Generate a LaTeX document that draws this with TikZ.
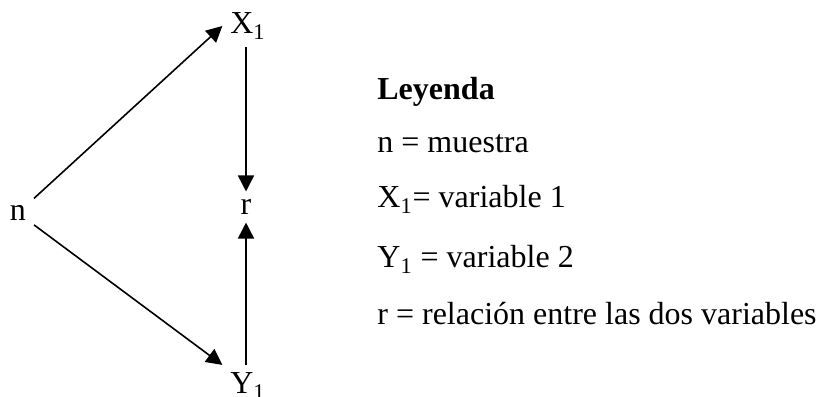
\documentclass[tikz,border=0pt]{standalone}
\usepackage{fontspec}
\setmainfont{Liberation Serif}
\usetikzlibrary{arrows.meta}

\tikzset{
  var/.style={font=\fontsize{16}{18}\selectfont, inner sep=1pt, outer sep=3pt},
  leg/.style={font=\fontsize{16}{18}\selectfont, anchor=base west, inner sep=0pt},
  flecha/.style={-{Triangle[length=8pt,width=8pt]}, line width=0.8pt}
}

\begin{document}
\begin{tikzpicture}[x=0.5pt,y=0.5pt]
\useasboundingbox (0,0) rectangle (818,396);

% Variables
\node[var] (n) at (18,183) {n};
\node[var] (x1) at (248,370) {X\textsubscript{1}};
\node[var] (r) at (246,189) {r};
\node[var] (y1) at (248,10) {Y\textsubscript{1}};

% Arrows
\draw[flecha] (n) -- (x1.west);
\draw[flecha] (n) -- (y1.north west);
\draw[flecha] (x1.south -| r) -- (r);
\draw[flecha] (y1.north -| r) -- (r);

% Legend
\node[leg, font=\fontsize{16}{18}\selectfont\bfseries] (ley) at (377,296) {Leyenda};
\node[leg] (l1) at (377,243) {n = muestra};
\node[leg] (l2) at (377,188) {X\textsubscript{1}= variable 1};
\node[leg] (l3) at (377,128) {Y\textsubscript{1} = variable 2};
\node[leg] (l4) at (377,71) {r = relación entre las dos variables};

\end{tikzpicture}
\end{document}
